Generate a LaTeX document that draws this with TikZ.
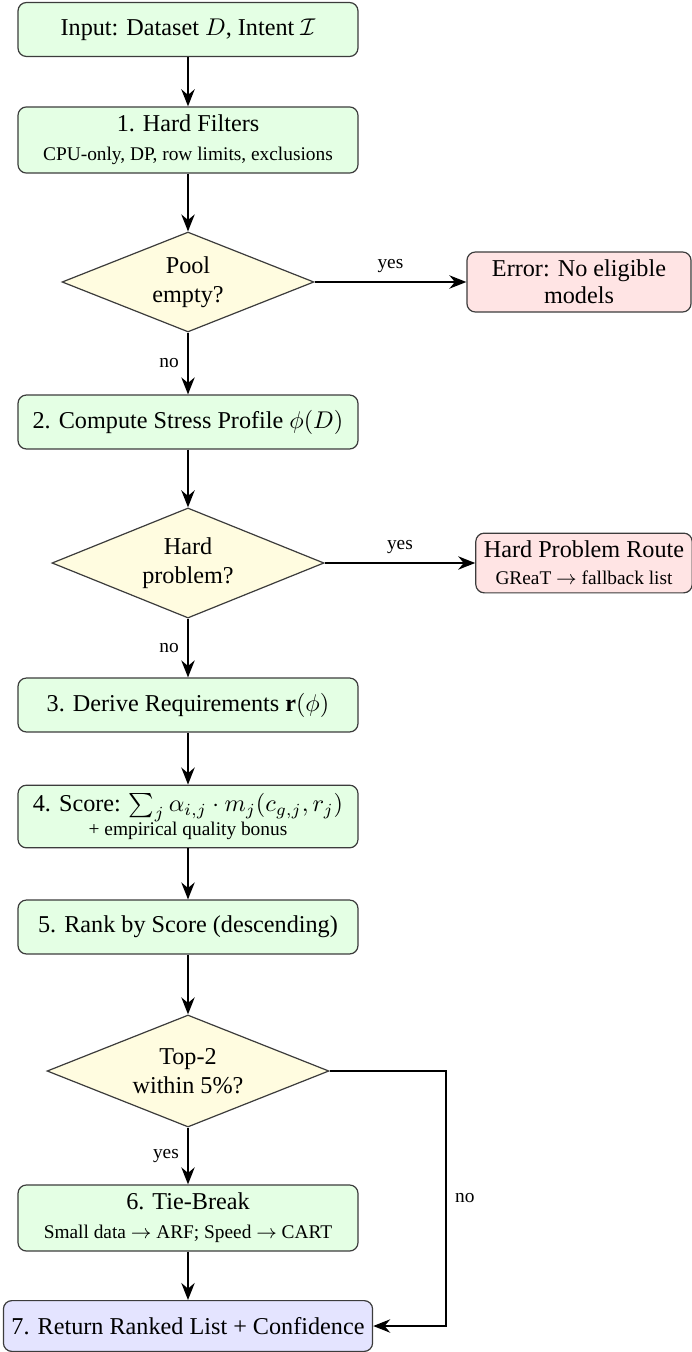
\documentclass[tikz,border=0pt]{standalone}
\usepackage{fontspec}
\setmainfont{Liberation Serif}
\usetikzlibrary{shapes.geometric,arrows.meta}
\definecolor{boxgreen}{RGB}{228,255,228}
\definecolor{boxred}{RGB}{255,228,228}
\definecolor{boxyellow}{RGB}{255,252,224}
\definecolor{boxblue}{RGB}{228,228,255}
\definecolor{edgegray}{RGB}{60,60,60}
\tikzset{
  procbox/.style={draw=edgegray, line width=0.5pt, rounded corners=3.5pt, fill=boxgreen,
    minimum width=140.5pt, minimum height=22.3pt, align=center, inner sep=3.33pt},
  errbox/.style={draw=edgegray, line width=0.5pt, rounded corners=3.5pt, fill=boxred,
    align=center, inner sep=3.33pt},
  retbox/.style={draw=edgegray, line width=0.5pt, rounded corners=3.5pt, fill=boxblue,
    minimum width=140.5pt, minimum height=21pt, align=center, inner sep=3.33pt},
  decbox/.style={draw=edgegray, line width=0.5pt, diamond, aspect=2.5, fill=boxyellow, align=center, inner sep=0pt},
  arr/.style={-{Stealth[length=7pt,width=5.5pt]}, line width=0.9pt, black},
  lbl/.style={font=\footnotesize, inner sep=3.33pt}
}
\begin{document}
\begin{tikzpicture}[x=0.41322pt, y=-0.41322pt]
\useasboundingbox (0,0) rectangle (692,1352);
\node[procbox] (input) at (188,29.5) {Input: Dataset $D$, Intent $\mathcal{I}$};
\node[procbox] (filt) at (188,140) {1. Hard Filters\\ {\footnotesize CPU-only, DP, row limits, exclusions}};
\node[decbox, minimum width=104.1pt, minimum height=41.3pt] (pool) at (188,282) {Pool\\ empty?};
\node[errbox, minimum width=92.6pt, minimum height=24.8pt] (err) at (579,282) {Error: No eligible\\[-1pt] models};
\node[procbox] (stress) at (188,422) {2. Compute Stress Profile $\phi(D)$};
\node[decbox, minimum width=112.4pt, minimum height=45.5pt] (hard) at (188,563) {Hard\\ problem?};
\node[errbox, minimum height=22.7pt] (route) at (584,563) {Hard Problem Route\\[-1pt] {\footnotesize GReaT $\rightarrow$ fallback list}};
\node[procbox] (req) at (188,705) {3. Derive Requirements $\mathbf{r}(\phi)$};
\node[procbox] (score) at (188,816.5) {4. Score: $\sum_j \alpha_{i,j} \cdot m_j(c_{g,j}, r_j)$\\[-2pt] {\footnotesize + empirical quality bonus}};
\node[procbox] (rank) at (188,927) {5. Rank by Score (descending)};
\node[decbox, minimum width=116.5pt, minimum height=46.3pt] (top) at (188,1071) {Top-2\\ within 5\%?};
\node[procbox] (tie) at (188,1218) {6. Tie-Break\\ {\footnotesize Small data $\rightarrow$ ARF; Speed $\rightarrow$ CART}};
\node[retbox] (ret) at (188,1326) {7. Return Ranked List + Confidence};
\coordinate (corner) at (446,1071);

\draw[arr] (input) -- (filt);
\draw[arr] (filt) -- (pool);
\draw[arr] (pool.east) -- node[lbl, above] {yes} (err.west);
\draw[arr] (pool.south) -- node[lbl, left] {no} (stress.north);
\draw[arr] (stress) -- (hard);
\draw[arr] (hard.east) -- node[lbl, above] {yes} (route.west);
\draw[arr] (hard.south) -- node[lbl, left] {no} (req.north);
\draw[arr] (req) -- (score);
\draw[arr] (score) -- (rank);
\draw[arr] (rank) -- (top);
\draw[arr] (top.south) -- node[lbl, left] {yes} (tie.north);
\draw[arr] (tie) -- (ret);
\draw[arr] (top.east) -- (corner) |- node[lbl, right, pos=0.25] {no} (ret.east);
\end{tikzpicture}
\end{document}
